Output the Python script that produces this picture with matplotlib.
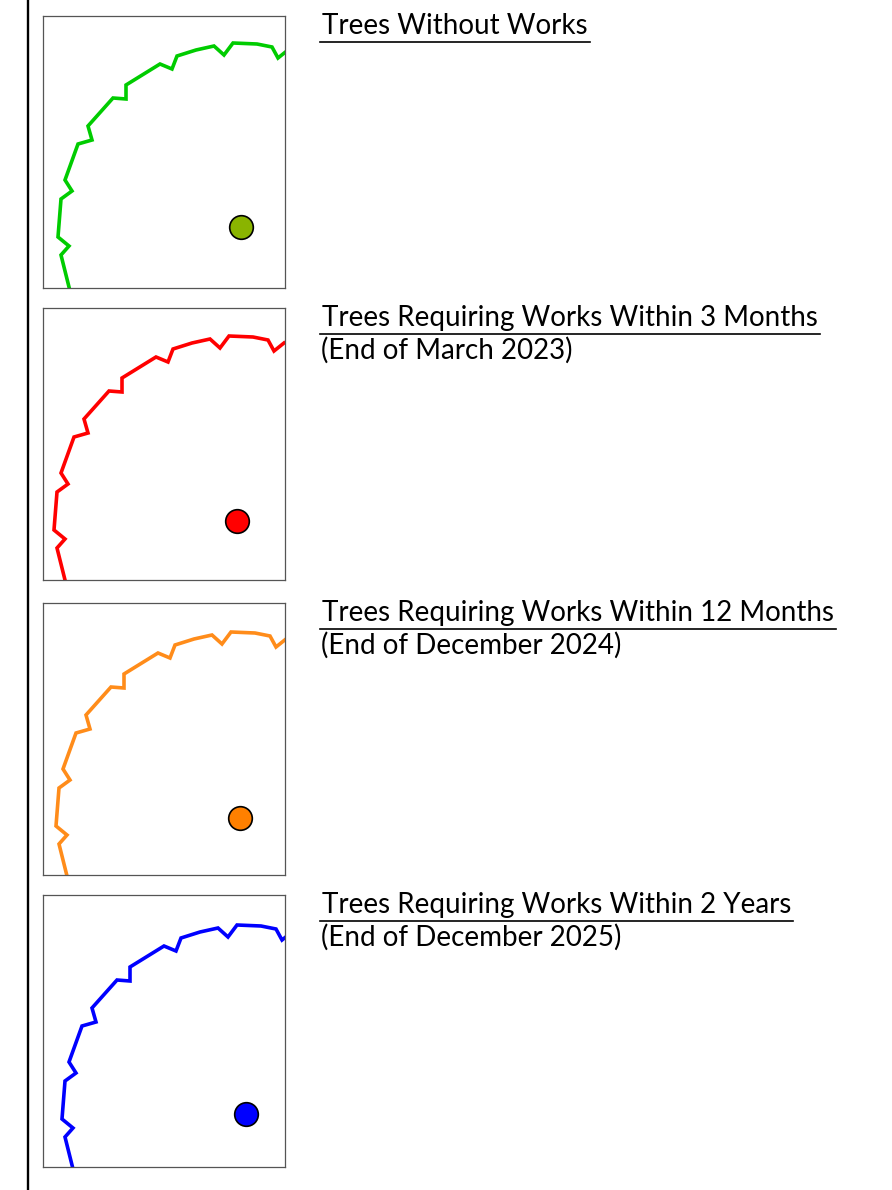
import matplotlib.pyplot as plt
from matplotlib.lines import Line2D

plt.rcParams['font.family'] = ['Lato', 'DejaVu Sans']

W, H = 892, 1190

# outline of the canopy (pixel offsets inside a 242x272 box, y downwards)
edge_x = [241, 231, 225, 210, 186, 177, 167, 149, 130, 125, 113, 79, 79, 66,
          41, 45, 31, 18, 25, 14, 11, 22, 14, 22]
edge_y = [35, 43, 32, 29, 28, 40, 31, 35, 41, 54, 49, 70, 84, 83,
          111, 125, 129, 165, 176, 184, 222, 231, 240, 272]

# one panel per category
box_tops = [16, 308, 603, 895]
edge_dx = [4, 0, 2, 8]
edge_dy = [-1, 0, 1, 2]
line_colors = ['#00cc00', '#ff0000', '#ff8c1a', '#0000ff']
dot_colors = ['#8ab400', '#ff0000', '#ff8000', '#0000ff']
dot_x = [198, 194, 197, 203]
dot_y = [211, 213, 215, 219]
titles = ['Trees Without Works',
          'Trees Requiring Works Within 3 Months',
          'Trees Requiring Works Within 12 Months',
          'Trees Requiring Works Within 2 Years']
subtitles = ['', '(End of March 2023)', '(End of December 2024)',
             '(End of December 2025)']

box_left, box_w, box_h = 43, 242, 272
text_x = 320


def fx(x):
    return x / W


def fy(y):
    return 1 - y / H


fig = plt.figure(figsize=(W / 100, H / 100), dpi=100)

# vertical rule on the left
fig.add_artist(Line2D([fx(28), fx(28)], [0, 1], color='black', lw=1.7))

title_texts = []
for i in range(4):
    top = box_tops[i]
    ax = fig.add_axes([fx(box_left), fy(top + box_h), box_w / W, box_h / H])
    xs = [v + edge_dx[i] for v in edge_x]
    ys = [v + edge_dy[i] for v in edge_y]
    ax.plot(xs, ys, color=line_colors[i], lw=2.6, solid_joinstyle='miter')
    ax.plot(dot_x[i], dot_y[i], 'o', ms=17, mfc=dot_colors[i], mec='black', mew=1.2)
    ax.set_xlim(0, box_w)
    ax.set_ylim(box_h, 0)
    ax.set_xticks([])
    ax.set_yticks([])
    for s in ax.spines.values():
        s.set_color('#555555')
        s.set_linewidth(0.9)

    t = fig.text(fx(text_x + 2), fy(top + 18), titles[i], fontsize=20,
                 va='baseline', ha='left', color='black')
    title_texts.append((t, top))
    if subtitles[i]:
        fig.text(fx(text_x + 1), fy(top + 51), subtitles[i], fontsize=20,
                 va='baseline', ha='left', color='black')

# underline each title
fig.canvas.draw()
r = fig.canvas.get_renderer()
for t, top in title_texts:
    bb = t.get_window_extent(r)
    x1 = bb.x1 / W + fx(2)
    fig.add_artist(Line2D([fx(text_x), x1], [fy(top + 26), fy(top + 26)],
                          color='black', lw=1.2))

fig.savefig('out.png', dpi=100)
